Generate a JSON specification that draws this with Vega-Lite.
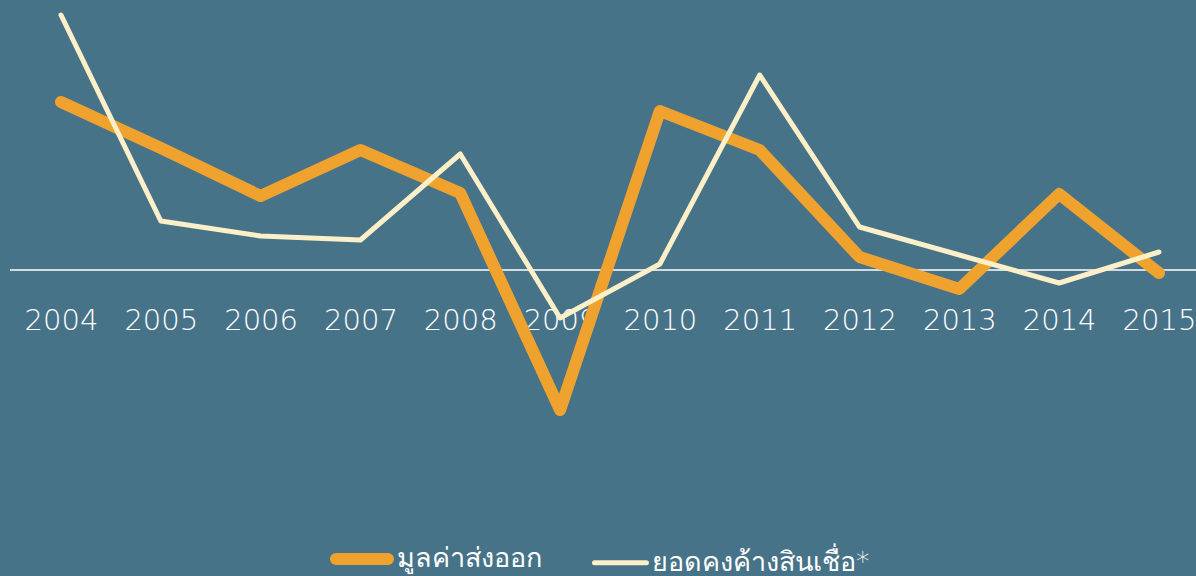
{
  "$schema": "https://vega.github.io/schema/vega-lite/v6.json",
  "width": 1196,
  "height": 576,
  "autosize": {"type": "none"},
  "padding": 0,
  "background": "#477389",
  "config": {"view": {"stroke": null}, "font": "DejaVu Sans"},
  "datasets": {
    "series": [
      {"year": 2004, "series": "มูลค่าส่งออก", "value": 16.8},
      {"year": 2005, "series": "มูลค่าส่งออก", "value": 12.2},
      {"year": 2006, "series": "มูลค่าส่งออก", "value": 7.4},
      {"year": 2007, "series": "มูลค่าส่งออก", "value": 12.0},
      {"year": 2008, "series": "มูลค่าส่งออก", "value": 7.7},
      {"year": 2009, "series": "มูลค่าส่งออก", "value": -14.0},
      {"year": 2010, "series": "มูลค่าส่งออก", "value": 15.9},
      {"year": 2011, "series": "มูลค่าส่งออก", "value": 12.0},
      {"year": 2012, "series": "มูลค่าส่งออก", "value": 1.3},
      {"year": 2013, "series": "มูลค่าส่งออก", "value": -1.9},
      {"year": 2014, "series": "มูลค่าส่งออก", "value": 7.6},
      {"year": 2015, "series": "มูลค่าส่งออก", "value": -0.3},
      {"year": 2004, "series": "ยอดคงค้างสินเชื่อ*", "value": 25.5},
      {"year": 2005, "series": "ยอดคงค้างสินเชื่อ*", "value": 4.9},
      {"year": 2006, "series": "ยอดคงค้างสินเชื่อ*", "value": 3.4},
      {"year": 2007, "series": "ยอดคงค้างสินเชื่อ*", "value": 3.0},
      {"year": 2008, "series": "ยอดคงค้างสินเชื่อ*", "value": 11.6},
      {"year": 2009, "series": "ยอดคงค้างสินเชื่อ*", "value": -4.8},
      {"year": 2010, "series": "ยอดคงค้างสินเชื่อ*", "value": 0.6},
      {"year": 2011, "series": "ยอดคงค้างสินเชื่อ*", "value": 19.5},
      {"year": 2012, "series": "ยอดคงค้างสินเชื่อ*", "value": 4.3},
      {"year": 2013, "series": "ยอดคงค้างสินเชื่อ*", "value": 1.5},
      {"year": 2014, "series": "ยอดคงค้างสินเชื่อ*", "value": -1.3},
      {"year": 2015, "series": "ยอดคงค้างสินเชื่อ*", "value": 1.8}
    ]
  },
  "layer": [
    {
      "data": {"values": [{"zero": 0, "start": 2003.489, "end": 2015.371}]},
      "mark": {"type": "rule", "color": "#ffffff", "strokeWidth": 1.5},
      "encoding": {
        "x": {"field": "start", "type": "quantitative", "scale": {"domain": [2003.389, 2015.371], "nice": false, "zero": false}},
        "x2": {"field": "end"},
        "y": {"field": "zero", "type": "quantitative", "scale": {"domain": [-30.6, 27], "nice": false, "zero": false}, "axis": null}
      }
    },
    {
      "data": {"name": "series"},
      "mark": {"type": "line", "strokeCap": "round", "strokeJoin": "round"},
      "encoding": {
        "x": {
          "field": "year",
          "type": "quantitative",
          "scale": {"domain": [2003.389, 2015.371], "nice": false, "zero": false},
          "axis": {
            "values": [2004, 2005, 2006, 2007, 2008, 2009, 2010, 2011, 2012, 2013, 2014, 2015],
            "format": "d",
            "orient": "bottom",
            "offset": -276,
            "domain": false,
            "ticks": false,
            "grid": false,
            "title": null,
            "labelColor": "#ffffff",
            "labelFontSize": 29,
            "labelFont": "DejaVu Sans",
            "labelFontWeight": 200,
            "labelPadding": 6,
            "labelBaseline": "top",
            "labelOverlap": false,
            "labelFlush": false
          }
        },
        "y": {"field": "value", "type": "quantitative", "scale": {"domain": [-30.6, 27], "nice": false, "zero": false}, "axis": null},
        "color": {
          "field": "series",
          "type": "nominal",
          "scale": {"domain": ["มูลค่าส่งออก", "ยอดคงค้างสินเชื่อ*"], "range": ["#f0a22e", "#fdf0c8"]},
          "legend": {
            "orient": "none",
            "legendX": 330,
            "legendY": 527,
            "direction": "horizontal",
            "title": null,
            "symbolType": "stroke",
            "symbolSize": 2700,
            "labelColor": "#ffffff",
            "labelFontSize": 27,
            "labelFont": "DejaVu Sans",
            "labelFontWeight": 200,
            "labelOffset": 3,
            "columnPadding": 42,
            "labelLimit": 400,
            "encode": {"symbols": {"update": {"strokeCap": {"value": "round"}}}}
          }
        },
        "strokeWidth": {
          "field": "series",
          "type": "nominal",
          "scale": {"domain": ["มูลค่าส่งออก", "ยอดคงค้างสินเชื่อ*"], "range": [12, 5]}
        }
      }
    }
  ]
}
